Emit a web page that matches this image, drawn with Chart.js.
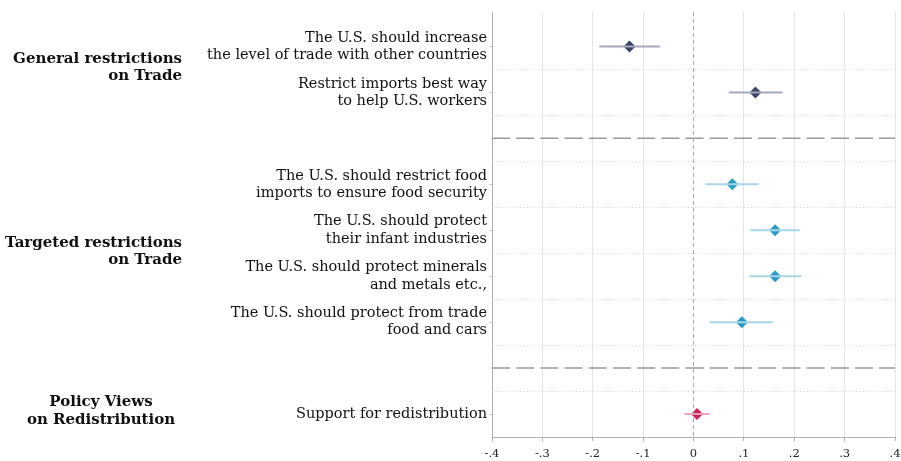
<!DOCTYPE html>
<html>
<head>
<meta charset="utf-8">
<script src="https://cdn.jsdelivr.net/npm/chart.js@4"></script>
<style>
  html, body { margin: 0; padding: 0; background: #fff; }
  #wrap { width: 901px; height: 461px; }
</style>
</head>
<body>
<div id="wrap"><canvas id="myChart"></canvas></div>
<script>
// rows 3 and 8 are the group separators
const rowLabels = [
  ['The U.S. should increase', 'the level of trade with other countries'],
  ['Restrict imports best way', 'to help U.S. workers'],
  '',
  ['The U.S. should restrict food', 'imports to ensure food security'],
  ['The U.S. should protect', 'their infant industries'],
  ['The U.S. should protect minerals', 'and metals etc.,'],
  ['The U.S. should protect from trade', 'food and cars'],
  '',
  'Support for redistribution',
];
const rows = [1, 2, 4, 5, 6, 7, 9];
const estimates = [-0.127, 0.123, 0.077, 0.162, 0.162, 0.096, 0.007];
const ciLow = [-0.187, 0.070, 0.024, 0.113, 0.111, 0.032, -0.018];
const ciHigh = [-0.066, 0.177, 0.129, 0.211, 0.214, 0.158, 0.032];
const rowGroup = [0, 0, 1, 1, 1, 1, 2];
const separators = [3, 8];
const xTicks = [-0.4, -0.3, -0.2, -0.1, 0, 0.1, 0.2, 0.3, 0.4];

const groupNames = [
  ['General restrictions', 'on Trade'],
  ['Targeted restrictions', 'on Trade'],
  ['Policy Views', 'on Redistribution'],
];
const groupCenters = [1.46, 5.46, 8.94];

const pointColors = ['#3c4466', '#2b9cc6', '#cc2255'];
const barColors = ['#a3a8bc', '#a6d6e6', '#f0a3b6'];

const serif = "'DejaVu Serif', 'Liberation Serif', serif";

const datasets = [];

// zero reference line
datasets.push({
  type: 'scatter',
  data: [{ x: 0, y: 0.25 }, { x: 0, y: 9.5 }],
  showLine: true,
  borderColor: '#aaaaaa',
  borderWidth: 1,
  borderDash: [4, 3],
  pointRadius: 0,
});

separators.forEach((s) => {
  datasets.push({
    type: 'scatter',
    data: [{ x: -0.4, y: s }, { x: 0.4, y: s }],
    showLine: true,
    borderColor: '#999999',
    borderWidth: 1.5,
    borderDash: [18, 6.2],
    pointRadius: 0,
  });
});

// confidence intervals
rows.forEach((r, i) => {
  datasets.push({
    type: 'scatter',
    data: [{ x: ciLow[i], y: r }, { x: ciHigh[i], y: r }],
    showLine: true,
    borderColor: barColors[rowGroup[i]],
    borderWidth: 2,
    pointRadius: 0,
  });
});

// point estimates
datasets.push({
  type: 'scatter',
  data: rows.map((r, i) => ({ x: estimates[i], y: r })),
  pointStyle: 'rectRot',
  pointRadius: 6,
  pointBackgroundColor: rowGroup.map((g) => pointColors[g]),
  pointBorderColor: rowGroup.map((g) => pointColors[g]),
  pointBorderWidth: 0,
});

const rowGridPlugin = {
  id: 'rowGrid',
  beforeDatasetsDraw(chart) {
    const { ctx, chartArea, scales } = chart;
    ctx.save();
    ctx.strokeStyle = '#d2d2d2';
    ctx.lineWidth = 1;
    ctx.setLineDash([1, 2.5]);
    for (let v = 1.5; v < 9.5; v += 1) {
      const y = Math.round(scales.y.getPixelForValue(v)) + 0.5;
      ctx.beginPath();
      ctx.moveTo(chartArea.left, y);
      ctx.lineTo(chartArea.right, y);
      ctx.stroke();
    }
    ctx.restore();
  },
};

const groupLabelPlugin = {
  id: 'groupLabels',
  afterDraw(chart) {
    const { ctx, scales } = chart;
    ctx.save();
    ctx.fillStyle = '#111111';
    ctx.font = 'bold 15px ' + serif;
    ctx.textBaseline = 'middle';
    groupNames.forEach((lines, g) => {
      const cy = scales.y.getPixelForValue(groupCenters[g]);
      const centred = g === 2;
      ctx.textAlign = centred ? 'center' : 'right';
      const x = centred ? 101 : 182;
      lines.forEach((t, k) => {
        ctx.fillText(t, x, cy + (k - 0.5) * 17.5);
      });
    });
    ctx.restore();
  },
};

const ctx = document.getElementById('myChart').getContext('2d');
const myChart = new Chart(ctx, {
  data: { datasets: datasets },
  options: {
    responsive: true,
    maintainAspectRatio: false,
    animation: false,
    layout: { padding: { top: 12, right: 5, left: 0, bottom: 0 } },
    plugins: {
      legend: { display: false },
      tooltip: { enabled: false },
    },
    scales: {
      x: {
        type: 'linear',
        min: -0.4,
        max: 0.4,
        afterBuildTicks: (scale) => {
          scale.ticks = xTicks.map((v) => ({ value: v }));
        },
        afterFit: (scale) => {
          scale.height = 24;
          scale.paddingRight = 0;
          scale.paddingLeft = 0;
        },
        ticks: {
          color: '#222',
          padding: 6,
          maxRotation: 0,
          font: { family: serif, size: 11.5 },
          callback: (value) => {
            if (value === 0) return '0';
            const s = value.toFixed(1);
            return s.replace('0.', '.');
          },
        },
        grid: {
          color: (c) => (c.tick && c.tick.value === 0 ? 'rgba(0,0,0,0)' : '#e4e4e4'),
          tickColor: '#b0b0b0',
          tickLength: 4,
          lineWidth: 1,
        },
        border: { display: true, color: '#b0b0b0' },
      },
      y: {
        type: 'linear',
        reverse: true,
        min: 0.25,
        max: 9.5,
        afterBuildTicks: (scale) => {
          scale.ticks = rowLabels.map((l, i) => ({ value: i + 1 }));
        },
        afterFit: (scale) => {
          scale.width = 492;
        },
        ticks: {
          color: '#111',
          padding: 2,
          font: { family: serif, size: 14.5, lineHeight: 1.18 },
          callback: (value) => rowLabels[value - 1],
        },
        grid: {
          drawOnChartArea: false,
          tickColor: (c) => (c.tick && rowLabels[c.tick.value - 1] ? '#c8c8c8' : 'rgba(0,0,0,0)'),
          tickLength: 3,
        },
        border: { display: true, color: '#b0b0b0', width: 1 },
      },
    },
  },
  plugins: [rowGridPlugin, groupLabelPlugin],
});
</script>
</body>
</html>
